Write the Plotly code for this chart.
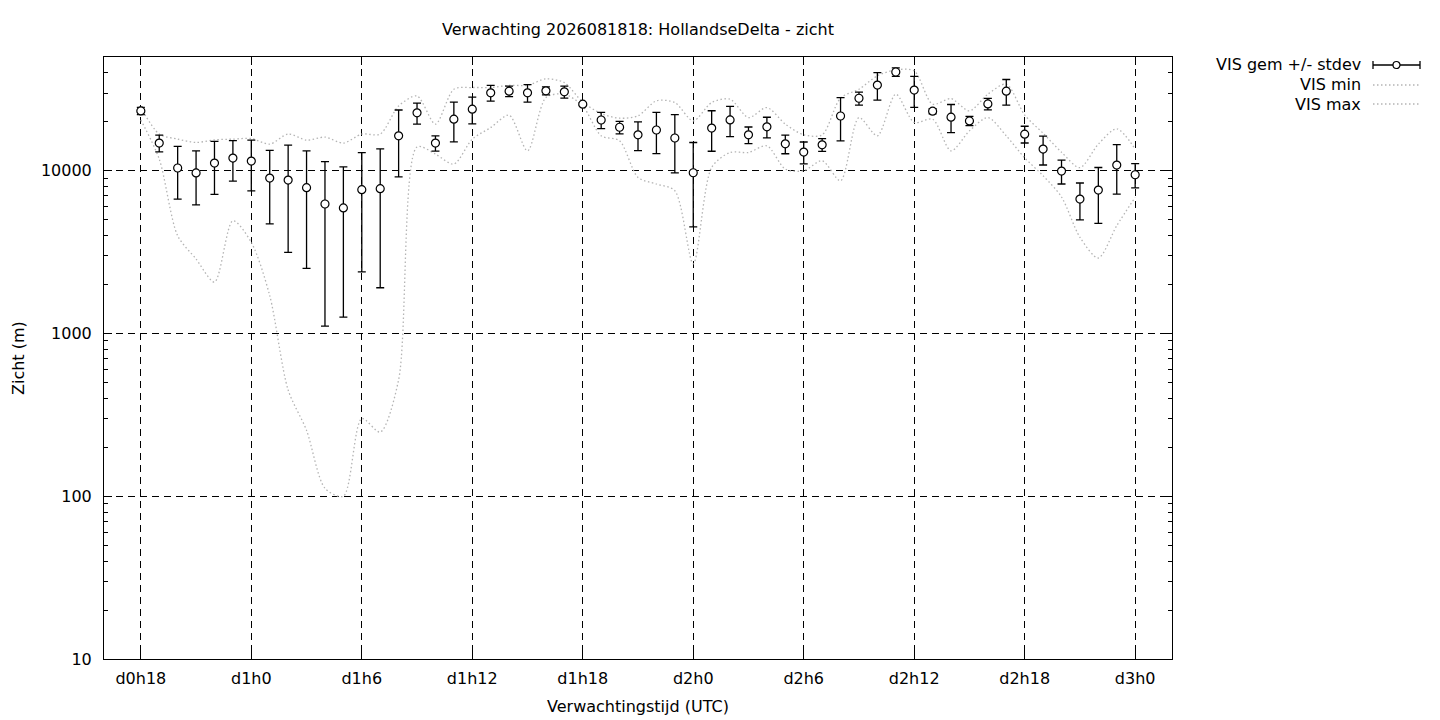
import math
import plotly.graph_objects as go

# ---- data (hours since d0h0) ----
hours = [18, 19, 20, 21, 22, 23, 24, 25, 26, 27, 28, 29, 30, 31, 32, 33, 34, 35, 36,
         37, 38, 39, 40, 41, 42, 43, 44, 45, 46, 47, 48, 49, 50, 51, 52, 53, 54, 55,
         56, 57, 58, 59, 60, 61, 62, 63, 64, 65, 66, 67, 68, 69, 70, 71, 72]

vis_mean = [23300, 14800, 10400, 9700, 11150, 11970, 11470, 9020, 8770, 7870, 6250,
            5910, 7650, 7760, 16400, 22700, 14790, 20750, 23900, 30100, 30850, 30100,
            30970, 30540, 25640, 20500, 18500, 16620, 17800, 15900, 9720, 18280, 20540,
            16620, 18620, 14640, 13020, 14440, 21700, 27900, 33600, 40450, 31300, 23230,
            21330, 20240, 25760, 30850, 16790, 13590, 9960, 6700, 7610, 10840, 9450]

vis_stdev = [1200, 1740, 3700, 3530, 4000, 3340, 3950, 4310, 5620, 5360, 5140,
             4650, 5260, 5850, 7220, 3330, 1600, 5690, 4480, 3320, 2280, 3690,
             1750, 2620, 500, 2340, 1630, 3340, 5040, 6200, 5200, 5100, 4330,
             1950, 2700, 1920, 2000, 1300, 6450, 2560, 6430, 2420, 6750, 850,
             4200, 1320, 2120, 5510, 1980, 2740, 1670, 1710, 2860, 3650, 1600]

vis_min = [20500, 11800, 3990, 2870, 2070, 4930, 3630, 1710, 450, 254, 112,
           100, 300, 248, 520, 14000, 12660, 10990, 15640, 18420, 21960, 13260,
           28160, 29550, 25000, 16390, 15270, 9100, 8290, 7540, 2680, 10480, 12950,
           12950, 14230, 10240, 10000, 11520, 8680, 21210, 16390, 29550, 19800, 20740,
           13260, 17580, 21210, 16390, 12000, 9320, 6900, 3900, 2910, 4600, 6860]

vis_max = [24500, 16800, 15640, 14920, 15490, 15640, 15780, 14580, 16800, 15430, 16100,
           14790, 16800, 16800, 25000, 28800, 19340, 31700, 32460, 32460, 33500, 33500,
           36700, 34800, 26400, 22480, 21030, 21740, 26890, 26250, 20240, 26250, 27540,
           21210, 24450, 19340, 16620, 16620, 28000, 31700, 38350, 41660, 41070, 25640,
           27740, 23340, 29550, 34050, 22000, 17000, 13000, 10450, 14580, 18100, 13600]

x_tick_vals = [18, 24, 30, 36, 42, 48, 54, 60, 66, 72]
x_tick_text = ["d0h18", "d1h0", "d1h6", "d1h12", "d1h18", "d2h0", "d2h6", "d2h12", "d2h18", "d3h0"]
y_tick_vals = [10, 100, 1000, 10000]
y_tick_text = ["10", "100", "1000", "10000"]
y_minor_vals = [m * d for d in (10, 100, 1000, 10000) for m in range(2, 10)]

title_text = "Verwachting 2026081818: HollandseDelta - zicht"
legend_labels = ["VIS gem +/- stdev", "VIS min", "VIS max"]

FONT = "DejaVu Sans"
FS = 16
GRAY = "#b4b4b4"

fig = go.Figure()

fig.add_trace(go.Scatter(
    x=hours, y=vis_min, mode="lines", name=legend_labels[1],
    line=dict(color=GRAY, width=1.3, dash="1.5px,2.5px", shape="spline", smoothing=0.8),
))
fig.add_trace(go.Scatter(
    x=hours, y=vis_max, mode="lines", name=legend_labels[2],
    line=dict(color=GRAY, width=1.3, dash="1.5px,2.5px", shape="spline", smoothing=0.8),
))
fig.add_trace(go.Scatter(
    x=hours, y=vis_mean, mode="markers", name=legend_labels[0],
    marker=dict(symbol="circle", size=8, color="white", line=dict(color="black", width=1.2)),
    error_y=dict(type="data", array=vis_stdev, symmetric=True, color="black",
                 thickness=1.3, width=4),
))

W, H = 1440, 720
L, R, T, B = 104, 268, 57, 61
pw, ph = W - L - R, H - T - B


def px(xp):
    return (xp - L) / pw


def py(yp):
    return (H - B - yp) / ph


grid_dash = "7px,5px"

fig.update_layout(
    width=W, height=H,
    margin=dict(l=L, r=R, t=T, b=B, autoexpand=False),
    plot_bgcolor="white", paper_bgcolor="white",
    showlegend=False,
    font=dict(family=FONT, size=FS, color="black"),
    title=dict(text=title_text, x=(L + pw / 2) / W, xanchor="center",
               y=1 - 29 / H, yanchor="middle", font=dict(family=FONT, size=FS)),
    xaxis=dict(
        range=[16, 74], tickmode="array", tickvals=x_tick_vals, ticktext=x_tick_text,
        ticks="inside", ticklen=8, tickcolor="black", tickwidth=1,
        showline=True, linecolor="black", linewidth=1, mirror="ticks",
        showgrid=True, gridcolor="black", gridwidth=1, griddash=grid_dash,
        zeroline=False, ticklabelstandoff=5,
    ),
    yaxis=dict(
        type="log", range=[1, math.log10(50000)],
        tickmode="array", tickvals=y_tick_vals, ticktext=y_tick_text,
        ticks="inside", ticklen=8, tickcolor="black", tickwidth=1,
        minor=dict(tickmode="array", tickvals=y_minor_vals, ticks="inside",
                   ticklen=4, tickcolor="black", showgrid=False),
        showline=True, linecolor="black", linewidth=1, mirror="ticks",
        showgrid=True, gridcolor="black", gridwidth=1, griddash=grid_dash,
        zeroline=False, ticklabelstandoff=8,
    ),
)

# axis titles
fig.add_annotation(text="Verwachtingstijd (UTC)", xref="paper", yref="paper",
                   x=0.5, y=py(706), xanchor="center", yanchor="middle",
                   showarrow=False, font=dict(family=FONT, size=FS))
fig.add_annotation(text="Zicht (m)", xref="paper", yref="paper",
                   x=px(18), y=0.5, xanchor="center", yanchor="middle", textangle=-90,
                   showarrow=False, font=dict(family=FONT, size=FS))

# gnuplot-style key (text right-aligned, sample on the right)
key_rows = [65, 85, 104]
for lab, yk in zip(legend_labels, key_rows):
    fig.add_annotation(text=lab, xref="paper", yref="paper", x=px(1363), y=py(yk),
                       xanchor="right", yanchor="middle", showarrow=False,
                       font=dict(family=FONT, size=FS))
x0s, x1s = px(1373), px(1420)
yk = py(key_rows[0])
fig.add_shape(type="line", xref="paper", yref="paper", x0=x0s, x1=x1s, y0=yk, y1=yk,
              line=dict(color="black", width=1.3))
for xe in (x0s, x1s):
    fig.add_shape(type="line", xref="paper", yref="paper", x0=xe, x1=xe,
                  y0=py(key_rows[0] - 4), y1=py(key_rows[0] + 4),
                  line=dict(color="black", width=1.3))
xc = px(1396.5)
r = 3.5
fig.add_shape(type="circle", xref="paper", yref="paper",
              x0=xc - r / pw, x1=xc + r / pw, y0=yk - r / ph, y1=yk + r / ph,
              fillcolor="white", line=dict(color="black", width=1.2))
for yrow in key_rows[1:]:
    fig.add_shape(type="line", xref="paper", yref="paper", x0=x0s, x1=x1s,
                  y0=py(yrow), y1=py(yrow),
                  line=dict(color=GRAY, width=1.3, dash="1.5px,2.5px"))

fig.write_html("out.html", config={"displayModeBar": False},
               post_script="document.body.style.margin='0';")
